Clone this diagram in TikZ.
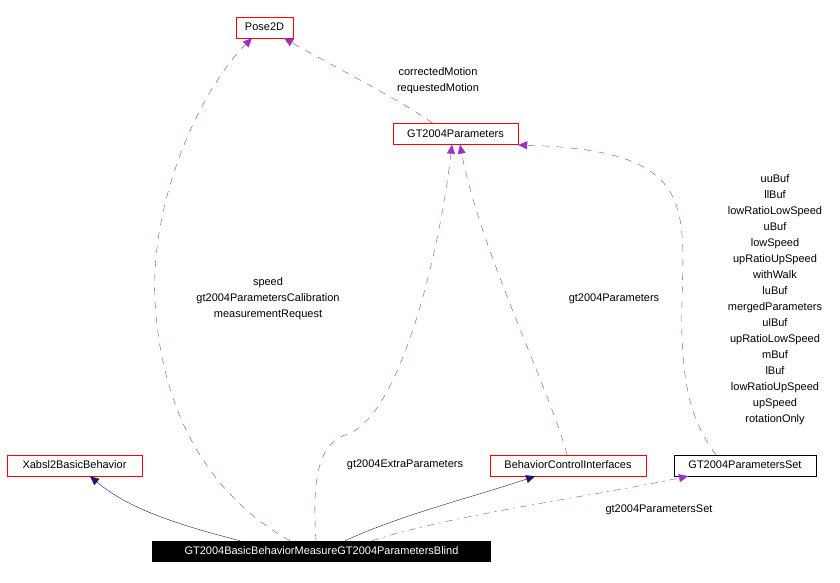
\documentclass[tikz,border=0pt]{standalone}
\usepackage{fontspec}
\setmainfont{Liberation Sans}
\usetikzlibrary{arrows.meta}
\begin{document}
\begin{tikzpicture}[x=1pt,y=-1pt,
  every node/.style={font=\fontsize{11}{16}\selectfont},
  box/.style={draw=red,fill=white,inner sep=0pt,minimum height=21pt,text height=8pt,text depth=2pt},
  bbox/.style={box,draw=black},
  lbl/.style={align=center,inner sep=0pt},
  inh/.style={draw={rgb,255:red,25;green,25;blue,112},-{Triangle[length=9pt,width=8pt]}},
  use/.style={draw={rgb,255:red,153;green,50;blue,204},dash pattern=on 7pt off 7pt,-{Triangle[length=9pt,width=8pt]}}]
\useasboundingbox (0,0) rectangle (840,583);
\node[box,minimum width=57pt] (pose) at (264.5,27.5) {Pose2D};
\node[box,minimum width=125pt] (par) at (455.5,134) {GT2004Parameters};
\node[box,minimum width=135pt] (xab) at (74.5,465.5) {Xabsl2BasicBehavior};
\node[box,minimum width=156pt] (bci) at (568,465.5) {BehaviorControlInterfaces};
\node[bbox,minimum width=142pt] (pset) at (745,465.5) {GT2004ParametersSet};
\node[fill=black,text=white,inner sep=0pt,minimum width=339pt,minimum height=21pt,text height=8pt,text depth=2pt] (main) at (321.5,551.5) {GT2004BasicBehaviorMeasureGT2004ParametersBlind};

\draw[inh] (main.north -| 240,0) .. controls (180,525) and (130,510) .. (xab.south -| 90,0);
\draw[inh] (main.north -| 345,0) .. controls (400,515) and (480,495) .. (bci.south -| 535,0);
\draw[use,dash pattern=on 7pt off 5pt on 2pt off 5pt] (main.north -| 372,0) .. controls (450,515) and (600,495) .. (pset.south -| 688,0);
\draw[use] (main.north -| 290,0) .. controls (200,490) and (160,400) .. (155,300) .. controls (150,200) and (200,90) .. (pose.south -| 252,0);
\draw[use] (main.north -| 316,0) .. controls (312,480) and (318,445) .. (345,435) .. controls (400,420) and (440,250) .. (par.south -| 452,0);
\draw[use] (bci.north -| 567,0) .. controls (550,390) and (480,250) .. (par.south -| 460,0);
\draw[use] (pset.north -| 716,0) .. controls (690,420) and (680,380) .. (682,300) .. controls (685,200) and (690,150) .. (par.east |- 0,145);
\draw[use] (par.north -| 433,0) .. controls (400,100) and (340,70) .. (pose.south -| 284,0);

\node[lbl] at (438,81) {correctedMotion\\requestedMotion};
\node[lbl] at (268,299) {speed\\gt2004ParametersCalibration\\measurementRequest};
\node[lbl] at (405,465) {gt2004ExtraParameters};
\node[lbl] at (614,299) {gt2004Parameters};
\node[lbl] at (659,510) {gt2004ParametersSet};
\node[lbl] at (775,300) {uuBuf\\llBuf\\lowRatioLowSpeed\\uBuf\\lowSpeed\\upRatioUpSpeed\\withWalk\\luBuf\\mergedParameters\\ulBuf\\upRatioLowSpeed\\mBuf\\lBuf\\lowRatioUpSpeed\\upSpeed\\rotationOnly};
\end{tikzpicture}
\end{document}
